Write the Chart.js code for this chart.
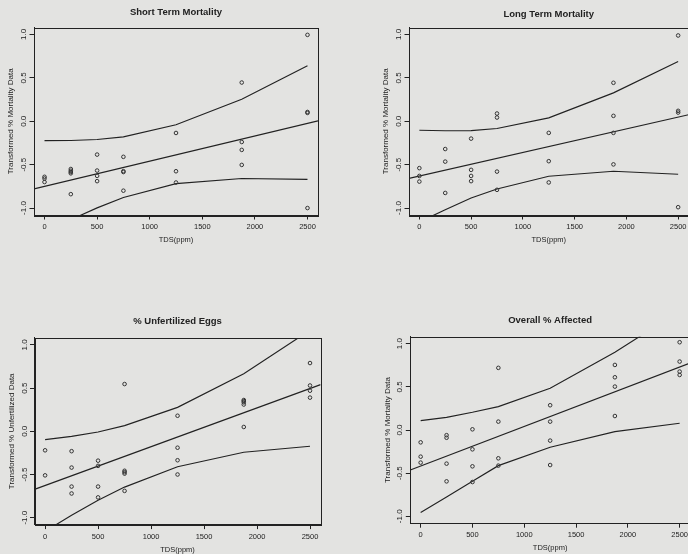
<!DOCTYPE html>
<html><head><meta charset="utf-8">
<script src="https://cdn.jsdelivr.net/npm/chart.js@4"></script>
<style>
html,body{margin:0;padding:0;background:#e3e3e1;overflow:hidden;width:688px;height:554px;position:relative;}
canvas{position:absolute;}
</style></head><body>
<canvas id="c1" style="left:0;top:0" width="344" height="277"></canvas>
<canvas id="c2" style="left:344px;top:0" width="360" height="277"></canvas>
<canvas id="c3" style="left:0;top:277px" width="344" height="277"></canvas>
<canvas id="c4" style="left:344px;top:277px" width="360" height="277"></canvas>
<script>
// ---- data ----
const xTicks = [0, 500, 1000, 1500, 2000, 2500];
const yTicks = [-1.0, -0.5, 0.0, 0.5, 1.0];
const tdsLevels = [0, 250, 500, 750, 1250, 1875, 2500];
const fitX = [-100, 2600];

const shortTdsX = [0,0,0,250,250,250,250,250,500,500,500,500,750,750,750,750,1250,1250,1250,1875,1875,1875,1875,2500,2500,2500,2500];
const shortMortY = [-0.64,-0.66,-0.70,-0.55,-0.57,-0.585,-0.60,-0.84,-0.384,-0.568,-0.629,-0.69,-0.41,-0.575,-0.585,-0.80,-0.135,-0.576,-0.706,0.446,-0.239,-0.33,-0.503,0.995,0.107,0.096,-1.0];
const shortFit = [-0.78, 0.004];
const shortUpper = [-0.224,-0.222,-0.21,-0.18,-0.04,0.254,0.64];
const shortLower = [-1.278,-1.134,-0.998,-0.878,-0.718,-0.66,-0.67];

const longTdsX = [0,0,0,250,250,250,500,500,500,500,750,750,750,750,1250,1250,1250,1875,1875,1875,1875,2500,2500,2500,2500];
const longMortY = [-0.54,-0.63,-0.695,-0.32,-0.465,-0.826,-0.20,-0.56,-0.63,-0.69,0.089,0.043,-0.58,-0.79,-0.134,-0.46,-0.705,0.443,0.062,-0.134,-0.497,0.988,0.12,0.10,-0.99];
const longFit = [-0.659, 0.075];
const longUpper = [-0.104,-0.11,-0.108,-0.084,0.039,0.327,0.688];
const longLower = [-1.16,-1.02,-0.884,-0.78,-0.634,-0.576,-0.611];

const eggsTdsX = [0,0,250,250,250,250,500,500,500,500,750,750,750,750,750,1250,1250,1250,1250,1875,1875,1875,1875,1875,2500,2500,2500,2500];
const eggsY = [-0.22,-0.51,-0.23,-0.42,-0.64,-0.72,-0.34,-0.40,-0.64,-0.765,0.547,-0.457,-0.473,-0.49,-0.69,0.18,-0.19,-0.335,-0.50,0.362,0.35,0.335,0.31,0.05,0.79,0.53,0.47,0.39];
const eggsFit = [-0.672, 0.54];
const eggsUpper = [-0.096,-0.058,-0.008,0.066,0.277,0.666,1.17];
const eggsLower = [-1.158,-0.972,-0.798,-0.646,-0.41,-0.242,-0.173];

const overallTdsX = [0,0,0,250,250,250,250,500,500,500,500,750,750,750,750,1250,1250,1250,1250,1875,1875,1875,1875,2500,2500,2500,2500];
const overallY = [-0.143,-0.309,-0.378,-0.06,-0.09,-0.39,-0.595,0.008,-0.224,-0.421,-0.603,0.72,0.097,-0.328,-0.413,0.287,0.097,-0.123,-0.406,0.754,0.611,0.503,0.162,1.017,0.793,0.677,0.638];
const overallFit = [-0.463, 0.776];
const overallUpper = [0.109,0.147,0.205,0.271,0.484,0.90,1.38];
const overallLower = [-0.955,-0.777,-0.595,-0.413,-0.2,-0.019,0.078];

// ---- drawing ----
Chart.defaults.font.family = "'Liberation Sans', Arial, Helvetica, sans-serif";
const ink = '#222222';
const YW = 34, XH = 32;

const boxPlugin = {
  id: 'box',
  afterDraw(chart) {
    const a = chart.chartArea, ctx = chart.ctx;
    ctx.save();
    ctx.strokeStyle = ink; ctx.lineWidth = 1;
    ctx.strokeRect(Math.round(a.left) + 0.5, Math.round(a.top) + 0.5, Math.round(a.right - a.left), Math.round(a.bottom - a.top));
    ctx.restore();
  }
};

function pairs(xs, ys) { return xs.map((x, i) => ({x: x, y: ys[i]})); }

function makePanel(p) {
  const lineDs = (xs, ys) => ({type: 'line', data: pairs(xs, ys), borderColor: ink, borderWidth: 1.15,
    pointRadius: 0, pointHoverRadius: 0, tension: 0, fill: false});
  new Chart(document.getElementById(p.id), {
    type: 'scatter',
    data: {datasets: [
      {type: 'scatter', data: pairs(p.xs, p.ys), pointRadius: 1.8, pointHoverRadius: 1.8,
       pointBorderWidth: 1, borderColor: '#333333', backgroundColor: 'rgba(0,0,0,0)'},
      lineDs(fitX, p.fit),
      lineDs(tdsLevels, p.upper),
      lineDs(tdsLevels, p.lower)
    ]},
    options: {
      responsive: false, animation: false, devicePixelRatio: 1,
      events: [],
      layout: {padding: {left: p.box.left - YW, right: p.width - p.box.right, top: 0, bottom: p.height - p.box.bottom - XH}},
      plugins: {
        legend: {display: false}, tooltip: {enabled: false},
        title: {display: true, text: p.title, fullSize: false, color: ink,
          font: {size: 9.5, weight: 'bold'},
          padding: {top: p.box.top - p.titleGap - 5.7, bottom: p.titleGap - 5.7}}
      },
      scales: {
        x: {type: 'linear', min: -100, max: 2600,
          afterBuildTicks: s => { s.ticks = xTicks.map(v => ({value: v})); },
          afterFit: s => { s.height = XH; },
          grid: {display: true, drawOnChartArea: false, drawTicks: true, tickLength: 4.5, color: ink, lineWidth: 1},
          border: {display: true, color: ink, width: 1},
          ticks: {color: ink, font: {size: 7.5}, padding: 3, maxRotation: 0, minRotation: 0, autoSkip: false,
            callback: v => String(v)},
          title: {display: true, text: 'TDS(ppm)', color: ink, font: {size: 7.5}, padding: {top: 0, bottom: XH - 25 - 4.5}}
        },
        y: {type: 'linear', min: -1.08, max: 1.08,
          afterBuildTicks: s => { s.ticks = yTicks.map(v => ({value: v})); },
          afterFit: s => { s.width = YW; },
          grid: {display: true, drawOnChartArea: false, drawTicks: true, tickLength: 4.5, color: ink, lineWidth: 1},
          border: {display: true, color: ink, width: 1},
          ticks: {color: ink, font: {size: 8}, minRotation: 90, maxRotation: 90, crossAlign: 'center',
            padding: -1.3, autoSkip: false, callback: v => Number(v).toFixed(1)},
          title: {display: true, text: p.yTitle, color: ink, font: {size: 8},
            padding: {top: p.box.left - 23 - (p.box.left - YW) - 4.8, bottom: 0}}
        }
      }
    },
    plugins: [boxPlugin]
  });
}

makePanel({id: 'c1', title: 'Short Term Mortality', yTitle: 'Transformed % Mortality Data',
  xs: shortTdsX, ys: shortMortY, fit: shortFit, upper: shortUpper, lower: shortLower,
  width: 344, height: 277, box: {left: 34, top: 27.5, right: 318, bottom: 215}, titleGap: 15.5});
makePanel({id: 'c2', title: 'Long Term Mortality', yTitle: 'Transformed % Mortality Data',
  xs: longTdsX, ys: longMortY, fit: longFit, upper: longUpper, lower: longLower,
  width: 360, height: 277, box: {left: 65, top: 27.5, right: 344.5, bottom: 215}, titleGap: 13.5});
makePanel({id: 'c3', title: '% Unfertilized Eggs', yTitle: 'Transformed % Unfertilized Data',
  xs: eggsTdsX, ys: eggsY, fit: eggsFit, upper: eggsUpper, lower: eggsLower,
  width: 344, height: 277, box: {left: 34.5, top: 61, right: 320.6, bottom: 247.6}, titleGap: 17});
makePanel({id: 'c4', title: 'Overall % Affected', yTitle: 'Transformed % Mortality Data',
  xs: overallTdsX, ys: overallY, fit: overallFit, upper: overallUpper, lower: overallLower,
  width: 360, height: 277, box: {left: 66.3, top: 59.8, right: 346, bottom: 246.2}, titleGap: 16.8});
</script>
</body></html>
